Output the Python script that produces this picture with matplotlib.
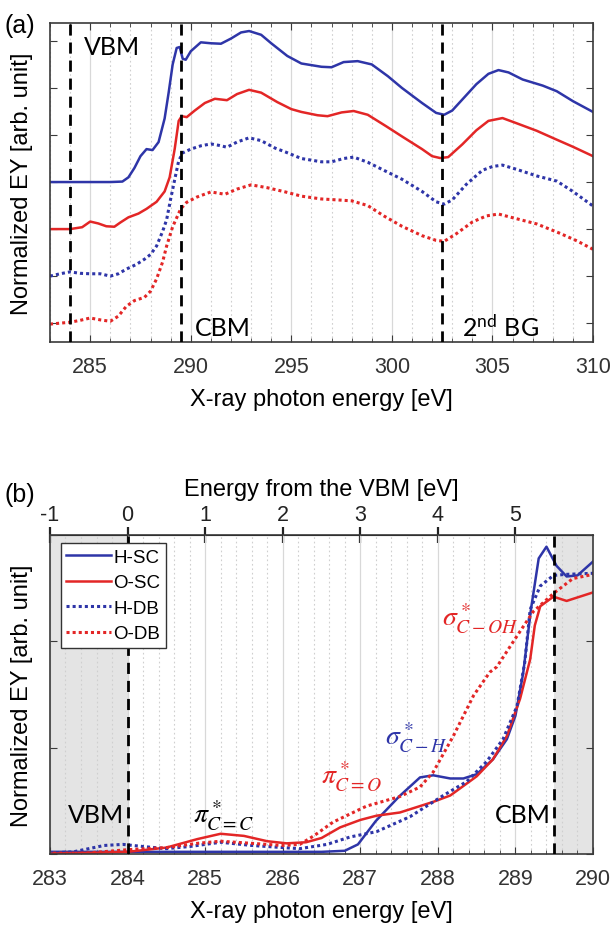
import matplotlib
matplotlib.use('Agg')
import matplotlib.pyplot as plt
from matplotlib.ticker import MultipleLocator

plt.rcParams['font.family'] = ['Liberation Sans', 'DejaVu Sans']
plt.rcParams['mathtext.fontset'] = 'stix'
plt.rcParams['axes.unicode_minus'] = False

BLUE = '#2e35a8'
RED = '#e32626'
labfont = ['Lato', 'DejaVu Sans']

# ---- panel (a) : wide range spectra (offset) ----
a_hsc_e = [283.0, 284.0, 285.0, 286.0, 286.6, 286.9, 287.2, 287.5, 287.8, 288.1, 288.4, 288.7, 288.9,
           289.1, 289.3, 289.45, 289.6, 289.75, 290.0, 290.5, 291.0, 291.5, 292.0, 292.5, 292.9, 293.5,
           294.0, 294.8, 295.5, 296.5, 297.0, 297.6, 298.3, 299.0, 299.8, 300.5, 301.5, 302.2, 302.6,
           303.0, 303.6, 304.2, 304.8, 305.3, 305.8, 306.5, 307.5, 308.2, 309.0, 310.0]
a_hsc = [3.00, 3.00, 3.00, 3.00, 3.01, 3.10, 3.30, 3.55, 3.70, 3.68, 3.85, 4.35, 4.90,
         5.50, 5.85, 5.87, 5.62, 5.60, 5.78, 5.97, 5.95, 5.94, 6.05, 6.18, 6.21, 6.13,
         5.95, 5.68, 5.52, 5.45, 5.44, 5.55, 5.57, 5.50, 5.25, 5.00, 4.68, 4.47, 4.43,
         4.52, 4.80, 5.08, 5.30, 5.38, 5.33, 5.18, 5.05, 4.93, 4.72, 4.49]

a_osc_e = [283.0, 284.0, 284.6, 285.0, 285.4, 285.8, 286.2, 286.5, 286.9, 287.4, 287.8, 288.3, 288.7,
           288.95, 289.2, 289.4, 289.55, 289.8, 290.2, 290.7, 291.2, 291.8, 292.3, 292.9, 293.5, 294.3,
           295.0, 295.5, 296.3, 296.8, 297.5, 298.1, 298.8, 299.7, 300.5, 301.5, 302.0, 302.4, 302.8,
           303.5, 304.2, 304.8, 305.5, 306.2, 307.2, 308.2, 309.0, 310.0]
a_osc = [2.00, 2.00, 2.04, 2.16, 2.12, 2.06, 2.05, 2.14, 2.25, 2.33, 2.43, 2.58, 2.80,
         3.10, 3.70, 4.30, 4.40, 4.38, 4.52, 4.68, 4.77, 4.74, 4.87, 4.96, 4.90, 4.70,
         4.55, 4.49, 4.42, 4.40, 4.48, 4.51, 4.43, 4.19, 3.97, 3.70, 3.55, 3.51, 3.53,
         3.80, 4.10, 4.30, 4.36, 4.25, 4.09, 3.90, 3.75, 3.55]

a_hdb_e = [283.0, 283.5, 284.0, 284.5, 285.0, 285.5, 286.0, 286.4, 286.8, 287.3, 287.7, 288.0, 288.3,
           288.6, 288.8, 289.0, 289.2, 289.4, 289.6, 290.0, 290.5, 291.0, 291.4, 291.8, 292.3, 292.9,
           293.5, 294.2, 294.7, 295.5, 296.5, 297.0, 297.6, 298.1, 298.8, 299.6, 300.5, 301.5, 302.2,
           302.6, 303.0, 303.7, 304.5, 305.0, 305.5, 306.2, 307.2, 308.2, 309.0, 310.0]
a_hdb = [1.00, 1.05, 1.09, 1.06, 1.05, 1.05, 1.00, 1.05, 1.15, 1.25, 1.36, 1.46, 1.64,
         1.95, 2.20, 2.64, 3.05, 3.45, 3.62, 3.70, 3.77, 3.81, 3.78, 3.74, 3.85, 3.94,
         3.88, 3.72, 3.64, 3.50, 3.43, 3.43, 3.50, 3.53, 3.42, 3.25, 3.06, 2.80, 2.58,
         2.53, 2.62, 2.95, 3.25, 3.33, 3.36, 3.27, 3.13, 3.02, 2.80, 2.49]

a_odb_e = [283.0, 283.5, 284.0, 284.5, 285.0, 285.5, 286.0, 286.4, 286.8, 287.2, 287.7, 288.0, 288.3,
           288.6, 288.8, 289.1, 289.5, 289.8, 290.3, 291.0, 291.7, 292.3, 293.0, 293.8, 294.7, 295.5,
           296.5, 297.3, 298.0, 298.8, 299.6, 300.5, 301.5, 302.2, 302.6, 303.2, 304.0, 304.7, 305.3,
           306.2, 307.2, 308.3, 309.2, 310.0]
a_odb = [-0.02, 0.00, 0.02, 0.06, 0.11, 0.07, 0.04, 0.15, 0.36, 0.48, 0.55, 0.68, 0.94,
         1.30, 1.64, 2.05, 2.43, 2.57, 2.68, 2.79, 2.74, 2.85, 2.94, 2.88, 2.79, 2.70,
         2.64, 2.62, 2.60, 2.50, 2.28, 2.06, 1.86, 1.76, 1.74, 1.90, 2.15, 2.28, 2.32,
         2.22, 2.11, 1.92, 1.75, 1.57]

a_marks = [284.0, 289.5, 302.5]

# ---- panel (b) : pre-edge region ----
b_hsc_e = [283.0, 283.5, 284.0, 284.5, 285.0, 285.5, 286.0, 286.5, 286.8, 286.97, 287.2, 287.5, 287.77,
           287.94, 288.16, 288.33, 288.5, 288.71, 288.89, 289.0, 289.1, 289.2, 289.3, 289.4, 289.53,
           289.66, 289.8, 290.0]
b_hsc = [0.02, 0.02, 0.02, 0.02, 0.02, 0.02, 0.02, 0.02, 0.03, 0.09, 0.31, 0.54, 0.72,
         0.74, 0.71, 0.71, 0.75, 0.89, 1.08, 1.30, 1.70, 2.30, 2.78, 2.89, 2.71,
         2.61, 2.62, 2.75]

b_osc_e = [283.0, 283.5, 284.0, 284.5, 284.9, 285.2, 285.5, 285.8, 286.05, 286.3, 286.5, 286.74, 287.0,
           287.21, 287.51, 287.94, 288.16, 288.5, 288.71, 288.89, 289.06, 289.19, 289.25, 289.32,
           289.49, 289.66, 289.83, 290.0]
b_osc = [0.01, 0.01, 0.02, 0.06, 0.14, 0.19, 0.17, 0.12, 0.10, 0.11, 0.15, 0.25, 0.32,
         0.36, 0.39, 0.49, 0.55, 0.73, 0.89, 1.11, 1.46, 1.83, 2.15, 2.33,
         2.42, 2.38, 2.42, 2.46]

b_hdb_e = [283.0, 283.3, 283.5, 283.7, 283.94, 284.2, 284.5, 284.8, 285.2, 285.6, 286.0, 286.22, 286.57,
           286.87, 287.21, 287.64, 288.07, 288.37, 288.63, 288.84, 289.02, 289.12, 289.19, 289.32,
           289.49, 289.66, 290.0]
b_hdb = [0.01, 0.02, 0.05, 0.08, 0.09, 0.07, 0.05, 0.07, 0.11, 0.08, 0.06, 0.05, 0.09,
         0.16, 0.21, 0.35, 0.55, 0.68, 0.87, 1.08, 1.39, 1.80, 2.30, 2.52,
         2.62, 2.63, 2.64]

b_odb_e = [283.0, 283.5, 284.0, 284.5, 284.9, 285.2, 285.6, 286.0, 286.22, 286.4, 286.65, 287.08, 287.51,
           287.77, 287.94, 288.2, 288.46, 288.67, 288.76, 289.02, 289.23, 289.49, 289.74, 290.0]
b_odb = [0.00, 0.01, 0.04, 0.06, 0.10, 0.12, 0.10, 0.08, 0.09, 0.17, 0.30, 0.45, 0.54,
         0.63, 0.77, 1.11, 1.49, 1.71, 1.76, 2.05, 2.28, 2.45, 2.59, 2.63]

vbm = 284.0
cbm = 289.5
top_ticks = [-1, 0, 1, 2, 3, 4, 5]

fig = plt.figure(figsize=(6.14, 9.28), dpi=100)
ax1 = fig.add_axes([0.0814, 0.6304, 0.8844, 0.3437])
ax2 = fig.add_axes([0.0814, 0.0787, 0.8844, 0.3437])

dot = (0, (1, 1))

def style(ax):
    ax.set_axisbelow(True)
    ax.grid(True, which='major', axis='x', color='#d8d8d8', lw=0.9, ls='-')
    ax.grid(True, which='minor', axis='x', color='#cfcfcf', lw=0.8, ls=(0, (1.5, 2.5)))
    for s in ax.spines.values():
        s.set_color('#3a3a3a')
        s.set_linewidth(1.2)
    ax.tick_params(which='both', direction='in', colors='#3a3a3a', labelcolor='#333333', labelsize=15.5)
    ax.tick_params(axis='x', which='major', pad=10, length=5)
    ax.tick_params(axis='x', which='minor', length=3)
    ax.tick_params(axis='y', length=5, left=True, right=True, labelleft=False)

# panel (a)
style(ax1)
ax1.plot(a_hsc_e, a_hsc, color=BLUE, lw=1.8)
ax1.plot(a_osc_e, a_osc, color=RED, lw=1.8)
ax1.plot(a_hdb_e, a_hdb, color=BLUE, lw=2.2, ls=dot)
ax1.plot(a_odb_e, a_odb, color=RED, lw=2.2, ls=dot)
for m in a_marks:
    ax1.axvline(m, color='black', lw=2, ls=(0, (4, 2.5)), zorder=5)
ax1.set_xlim(283, 310)
ax1.set_ylim(-0.4, 6.38)
ax1.xaxis.set_major_locator(MultipleLocator(5))
ax1.xaxis.set_minor_locator(MultipleLocator(1))
ax1.yaxis.set_major_locator(MultipleLocator(1))
ax1.tick_params(axis='x', which='both', top=True)
ax1.set_xlabel('X-ray photon energy [eV]', fontsize=17, labelpad=8)
ax1.set_ylabel('Normalized EY [arb. unit]', fontsize=17, labelpad=12)
ax1.text(284.7, 5.89, 'VBM', family=labfont, fontsize=18, va='center')
ax1.text(290.2, -0.09, 'CBM', family=labfont, fontsize=18, va='center')
ax1.text(303.5, -0.09, '2$^{\\mathregular{nd}}$ BG', family=labfont, fontsize=18, va='center')

# panel (b)
style(ax2)
ax2.axvspan(283, vbm, color='#e4e4e4', zorder=0, lw=0)
ax2.axvspan(cbm, 290, color='#e4e4e4', zorder=0, lw=0)
ax2.plot(b_hsc_e, b_hsc, color=BLUE, lw=1.8, label='H-SC')
ax2.plot(b_osc_e, b_osc, color=RED, lw=1.8, label='O-SC')
ax2.plot(b_hdb_e, b_hdb, color=BLUE, lw=2.2, ls=dot, label='H-DB')
ax2.plot(b_odb_e, b_odb, color=RED, lw=2.2, ls=dot, label='O-DB')
ax2.axvline(vbm, color='black', lw=2, ls=(0, (4, 2.5)), zorder=5)
ax2.axvline(cbm, color='black', lw=2, ls=(0, (4, 2.5)), zorder=5)
ax2.set_xlim(283, 290)
ax2.set_ylim(0, 3)
ax2.xaxis.set_major_locator(MultipleLocator(1))
ax2.xaxis.set_minor_locator(MultipleLocator(0.2))
ax2.yaxis.set_major_locator(MultipleLocator(1))
ax2.set_xlabel('X-ray photon energy [eV]', fontsize=17, labelpad=8)
ax2.set_ylabel('Normalized EY [arb. unit]', fontsize=17, labelpad=12)

sec = ax2.secondary_xaxis('top', functions=(lambda e: e - vbm, lambda v: v + vbm))
sec.set_xticks(top_ticks)
sec.tick_params(direction='inout', length=11, width=1.6, colors='#222222', labelsize=15.5, pad=2)
sec.set_xlabel('Energy from the VBM [eV]', fontsize=17, labelpad=6)

leg = ax2.legend(loc='upper left', bbox_to_anchor=(0.02, 0.975), fontsize=13.5, frameon=True,
                 fancybox=False, framealpha=1, edgecolor='#333333', handlelength=2.4,
                 handletextpad=0.1, labelspacing=0.45, borderpad=0.3, borderaxespad=0)
leg.set_zorder(10)
leg.get_frame().set_linewidth(1.0)

ax2.text(283.23, 0.37, 'VBM', family=labfont, fontsize=18, va='center')
ax2.text(288.74, 0.37, 'CBM', family=labfont, fontsize=18, va='center')
ax2.text(284.84, 0.37, r'$\pi^*_{C=C}$', fontsize=20, va='center', color='black')
ax2.text(286.5, 0.73, r'$\pi^*_{C=O}$', fontsize=20, va='center', color=RED)
ax2.text(287.32, 1.10, r'$\sigma^*_{C-H}$', fontsize=20, va='center', color=BLUE)
ax2.text(288.05, 2.22, r'$\sigma^*_{C-OH}$', fontsize=20, va='center', color=RED)

fig.text(0.008, 0.972, '(a)', fontsize=18, va='center')
fig.text(0.008, 0.4666, '(b)', fontsize=18, va='center')

fig.savefig('out.png', dpi=100)
